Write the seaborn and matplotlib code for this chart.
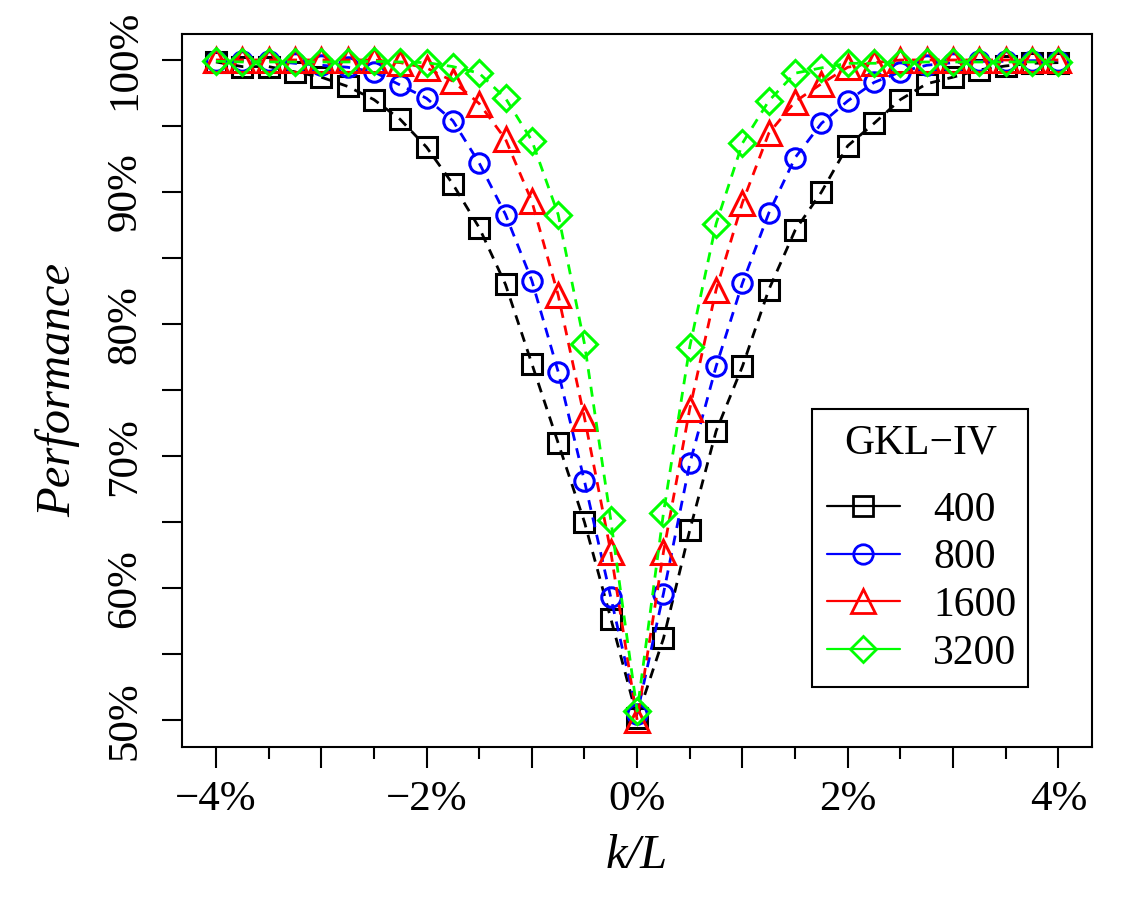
import matplotlib
matplotlib.use("Agg")
import matplotlib.pyplot as plt
import pandas as pd
import seaborn as sns
from matplotlib.lines import Line2D
from matplotlib.ticker import FixedLocator

# ---------------- data ----------------
k_over_L = [-4.0, -3.75, -3.5, -3.25, -3.0, -2.75, -2.5, -2.25, -2.0, -1.75, -1.5,
            -1.25, -1.0, -0.75, -0.5, -0.25, 0.0, 0.25, 0.5, 0.75, 1.0, 1.25, 1.5,
            1.75, 2.0, 2.25, 2.5, 2.75, 3.0, 3.25, 3.5, 3.75, 4.0]

perf_400 = [99.85, 99.5, 99.5, 99.1, 98.7, 98.0, 97.0, 95.5, 93.4, 90.6, 87.3,
            83.0, 77.0, 71.0, 65.0, 57.7, 50.2, 56.2, 64.4, 71.9, 76.8, 82.6, 87.1,
            90.0, 93.5, 95.2, 97.0, 98.2, 98.7, 99.25, 99.55, 99.75, 99.8]
perf_800 = [99.95, 99.95, 99.95, 99.75, 99.6, 99.45, 99.1, 98.1, 97.1, 95.4, 92.2,
            88.3, 83.3, 76.4, 68.1, 59.3, 50.5, 59.6, 69.45, 76.8, 83.1, 88.4, 92.6,
            95.2, 96.9, 98.3, 99.1, 99.6, 99.8, 99.9, 99.9, 99.95, 99.95]
perf_1600 = [100.0, 100.0, 100.0, 100.0, 100.0, 100.0, 100.0, 99.8, 99.4, 98.4, 96.7,
             94.0, 89.3, 82.2, 72.9, 62.75, 50.0, 62.75, 73.6, 82.6, 89.2, 94.45, 96.85,
             98.2, 99.45, 99.8, 100.0, 100.0, 100.0, 100.0, 100.0, 100.0, 100.0]
perf_3200 = [99.9, 99.85, 99.85, 99.85, 99.85, 99.85, 99.9, 99.85, 99.8, 99.5, 99.0,
             97.1, 93.9, 88.3, 78.5, 65.15, 50.7, 65.7, 78.3, 87.6, 93.7, 96.9, 99.0,
             99.4, 99.75, 99.75, 99.8, 99.85, 99.85, 99.85, 99.85, 99.85, 99.85]

series_names = ["400", "800", "1600", "3200"]
legend_title = "GKL\u2212IV"

x_major = [-4, -3, -2, -1, 0, 1, 2, 3, 4]
x_major_labels = ["\u22124%", "", "\u22122%", "", "0%", "", "2%", "", "4%"]
x_minor = [-3.5, -2.5, -1.5, -0.5, 0.5, 1.5, 2.5, 3.5]
y_ticks = [50, 55, 60, 65, 70, 75, 80, 85, 90, 95, 100]
y_labels = ["50%", "", "60%", "", "70%", "", "80%", "", "90%", "", "100%"]

# ---------------- style ----------------
colors = ["#000000", "#0000FF", "#FF0000", "#00FF00"]
markers = ["s", "o", "^", "D"]
msizes = [13.7, 14.0, 17.0, 13.7]

sns.set_style("white")
plt.rcParams["font.family"] = ["Liberation Serif", "DejaVu Serif"]
for key in ["text.color", "axes.labelcolor", "xtick.color", "ytick.color",
            "axes.edgecolor"]:
    plt.rcParams[key] = "black"

fig, ax = plt.subplots(figsize=(11.25, 9), dpi=100)
fig.subplots_adjust(left=0.162, right=0.9707, bottom=0.1703, top=0.9627)

all_series = [perf_400, perf_800, perf_1600, perf_3200]
for name, vals, c, m, ms in zip(series_names, all_series, colors, markers, msizes):
    df = pd.DataFrame({"k_over_L": k_over_L, "performance": vals})
    sns.lineplot(data=df, x="k_over_L", y="performance", ax=ax, color=c,
                 marker=m, markersize=ms, markerfacecolor="none",
                 markeredgecolor=c, markeredgewidth=2.2, linewidth=2.0,
                 linestyle=(0, (3.6, 2.8)), legend=False, errorbar=None,
                 sort=False)

ax.set_xlim(-4.32, 4.32)
ax.set_ylim(48, 102)

ax.xaxis.set_major_locator(FixedLocator(x_major))
ax.xaxis.set_minor_locator(FixedLocator(x_minor))
ax.set_xticklabels(x_major_labels)
ax.yaxis.set_major_locator(FixedLocator(y_ticks))
ax.set_yticklabels(y_labels, rotation=90, va="center")

ax.tick_params(axis="x", which="major", direction="out", length=15, width=1.5,
               pad=9, labelsize=31, bottom=True)
ax.tick_params(axis="x", which="minor", direction="out", length=8.6, width=1.5,
               bottom=True)
ax.tick_params(axis="y", which="major", direction="out", length=14.4, width=1.5,
               pad=13, labelsize=31, left=True)

for sp in ax.spines.values():
    sp.set_visible(True)
    sp.set_color("black")
    sp.set_linewidth(1.5)

ax.set_xlabel("k/L", fontsize=35, fontstyle="italic")
ax.set_ylabel("Performance", fontsize=35, fontstyle="italic")
ax.xaxis.set_label_coords(0.5, -0.122)
ax.yaxis.set_label_coords(-0.112, 0.5)

handles = [Line2D([0], [0], color=c, marker=m, markersize=ms,
                  markerfacecolor="none", markeredgecolor=c, markeredgewidth=2.0,
                  linewidth=1.6)
           for c, m, ms in zip(colors, markers, msizes)]
leg = ax.legend(handles, series_names, title=legend_title, loc="upper left",
                bbox_to_anchor=(0.6925, 0.0711, 0.2375, 0.4025), mode="expand",
                borderaxespad=0, fontsize=30, title_fontsize=30, frameon=True,
                fancybox=False, edgecolor="black", framealpha=1,
                handlelength=1.75, handletextpad=0.8, labelspacing=0.22,
                borderpad=0.35)
leg.get_frame().set_linewidth(1.5)
leg._legend_box.sep = 21

fig.savefig("out.png", dpi=100)
